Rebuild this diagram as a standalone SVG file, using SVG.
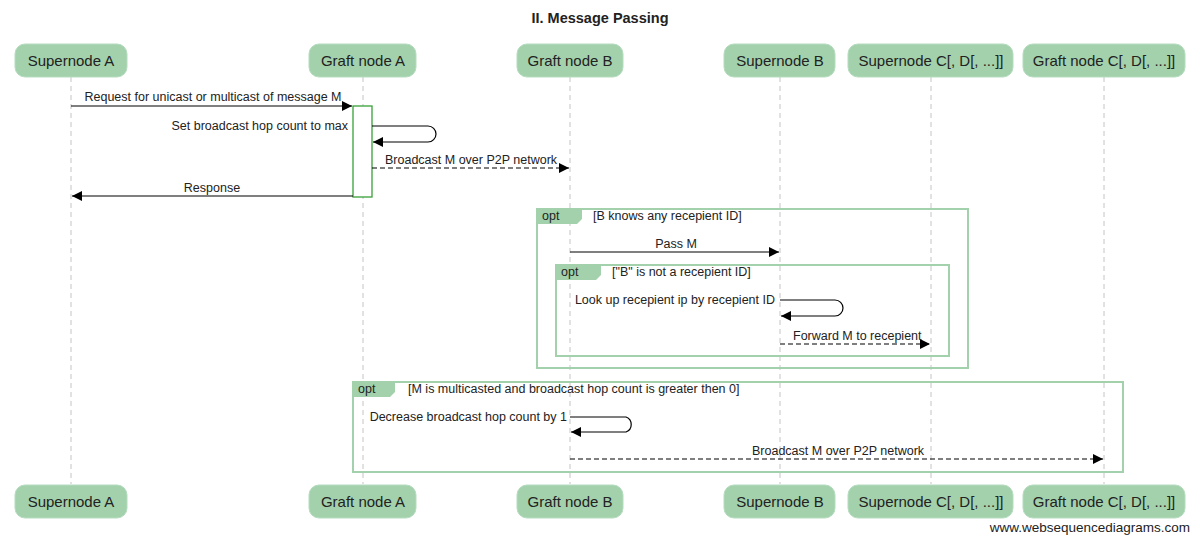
<svg xmlns="http://www.w3.org/2000/svg" width="1200" height="542" viewBox="0 0 1200 542">
<style>
text{font-family:"Liberation Sans",Arial,sans-serif;fill:#222}
.p rect{fill:#a2d1ac;stroke:#b5dcbe;stroke-width:1}
.p text{font-size:15px;text-anchor:middle}
.life{stroke:#c4c4c4;stroke-width:1;stroke-dasharray:5,4;fill:none}
.m{font-size:12.5px}
.mid{text-anchor:middle}
.end{text-anchor:end}
.ln{stroke:#000;stroke-width:1.2;fill:none}
.dash{stroke-dasharray:5,3}
.frame{fill:none;stroke:#a2d1ac;stroke-width:2}
.tab{fill:#a2d1ac}
.act{fill:#fff;stroke:#38a038;stroke-width:1.3}
</style>
<defs>
<marker id="ah" viewBox="0 0 10 10" refX="10" refY="5" markerWidth="10" markerHeight="10" markerUnits="userSpaceOnUse" orient="auto">
<path d="M0,0 L10,5 L0,10 Z" fill="#000"/>
</marker>
</defs>
<rect width="1200" height="542" fill="#fff"/>
<text x="600" y="23" font-size="14.5" font-weight="bold" text-anchor="middle">II. Message Passing</text>

<g id="lifelines">
<line class="life" x1="71" y1="77" x2="71" y2="484"/>
<line class="life" x1="363" y1="77" x2="363" y2="484"/>
<line class="life" x1="570" y1="77" x2="570" y2="484"/>
<line class="life" x1="780" y1="77" x2="780" y2="484"/>
<line class="life" x1="931" y1="77" x2="931" y2="484"/>
<line class="life" x1="1104" y1="77" x2="1104" y2="484"/>
</g>

<g id="frames">
<rect class="frame" x="537" y="209" width="431" height="159"/>
<path class="tab" d="M537,209 H582 V219 L577,224 H537 Z"/>
<text class="m" x="542" y="220">opt</text>
<text class="m" x="593" y="220">[B knows any recepient ID]</text>
<rect class="frame" x="556" y="265" width="393" height="91"/>
<path class="tab" d="M556,265 H601 V275 L596,280 H556 Z"/>
<text class="m" x="561" y="276">opt</text>
<text class="m" x="612" y="276">["B" is not a recepient ID]</text>
<rect class="frame" x="353" y="382" width="770" height="90"/>
<path class="tab" d="M353,382 H395 V392 L390,397 H353 Z"/>
<text class="m" x="358" y="393">opt</text>
<text class="m" x="408" y="393">[M is multicasted and broadcast hop count is greater then 0]</text>
</g>

<g id="activation">
<rect class="act" x="353" y="106" width="19" height="91"/>
</g>

<g id="connectors">
<line class="ln" x1="71" y1="106" x2="352" y2="106" marker-end="url(#ah)"/>
<text class="m mid" x="213" y="101">Request for unicast or multicast of message M</text>
<path class="ln" d="M372,126 H428 A8,8 0 0 1 428,142 H373" marker-end="url(#ah)"/>
<text class="m end" x="348" y="130">Set broadcast hop count to max</text>
<line class="ln dash" x1="372" y1="168" x2="569" y2="168" marker-end="url(#ah)"/>
<text class="m" x="385" y="164">Broadcast M over P2P network</text>
<line class="ln" x1="353" y1="196" x2="72" y2="196" marker-end="url(#ah)"/>
<text class="m mid" x="212" y="192">Response</text>
<line class="ln" x1="570" y1="252" x2="779" y2="252" marker-end="url(#ah)"/>
<text class="m mid" x="676" y="248">Pass M</text>
<path class="ln" d="M780,300 H835 A8,8 0 0 1 835,316 H781" marker-end="url(#ah)"/>
<text class="m end" x="775" y="304">Look up recepient ip by recepient ID</text>
<line class="ln dash" x1="780" y1="344" x2="930" y2="344" marker-end="url(#ah)"/>
<text class="m" x="793" y="340">Forward M to recepient</text>
<path class="ln" d="M570,417 H626 A8,8 0 0 1 626,432 H571" marker-end="url(#ah)"/>
<text class="m end" x="567" y="421">Decrease broadcast hop count by 1</text>
<line class="ln dash" x1="570" y1="459" x2="1103" y2="459" marker-end="url(#ah)"/>
<text class="m" x="752" y="455">Broadcast M over P2P network</text>
</g>

<g id="supernode-a" class="p">
<rect x="15" y="44" width="112" height="33" rx="10"/>
<text x="71" y="66">Supernode A</text>
<rect x="15" y="485" width="112" height="33" rx="10"/>
<text x="71" y="507">Supernode A</text>
</g>
<g id="graft-node-a" class="p">
<rect x="309" y="44" width="107" height="33" rx="10"/>
<text x="363" y="66">Graft node A</text>
<rect x="309" y="485" width="107" height="33" rx="10"/>
<text x="363" y="507">Graft node A</text>
</g>
<g id="graft-node-b" class="p">
<rect x="517" y="44" width="106" height="33" rx="10"/>
<text x="570" y="66">Graft node B</text>
<rect x="517" y="485" width="106" height="33" rx="10"/>
<text x="570" y="507">Graft node B</text>
</g>
<g id="supernode-b" class="p">
<rect x="724" y="44" width="111" height="33" rx="10"/>
<text x="780" y="66">Supernode B</text>
<rect x="724" y="485" width="111" height="33" rx="10"/>
<text x="780" y="507">Supernode B</text>
</g>
<g id="supernode-c" class="p">
<rect x="848" y="44" width="165" height="33" rx="10"/>
<text x="931" y="66">Supernode C[, D[, ...]]</text>
<rect x="848" y="485" width="165" height="33" rx="10"/>
<text x="931" y="507">Supernode C[, D[, ...]]</text>
</g>
<g id="graft-node-c" class="p">
<rect x="1023" y="44" width="162" height="33" rx="10"/>
<text x="1104" y="66">Graft node C[, D[, ...]]</text>
<rect x="1023" y="485" width="162" height="33" rx="10"/>
<text x="1104" y="507">Graft node C[, D[, ...]]</text>
</g>

<text x="1190" y="532" font-size="13.5" text-anchor="end">www.websequencediagrams.com</text>
</svg>
